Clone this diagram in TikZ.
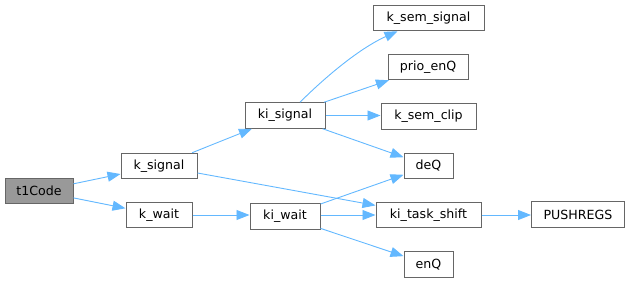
\documentclass[tikz,border=0pt]{standalone}
\usepackage{fontspec}
\setmainfont{DejaVu Sans}
\usetikzlibrary{arrows.meta}
\definecolor{edgeblue}{HTML}{63B8FF}
\definecolor{boxgray}{HTML}{666666}
\definecolor{rootfill}{HTML}{999999}
\tikzset{
  fn/.style={draw=boxgray, line width=1pt, fill=white, inner sep=0pt,
    minimum height=25.5pt, font=\fontsize{12.6}{14}\selectfont, text=black},
  root/.style={fn, fill=rootfill},
  edge/.style={draw=edgeblue, line width=0.9pt,
    -{Triangle[length=13pt,width=10pt,fill=edgeblue]}}
}
\begin{document}
\begin{tikzpicture}[x=1pt,y=-1pt]
\useasboundingbox (0,0) rectangle (631,283);
\node[root, minimum width=68pt] (t1) at (39,191) {t1Code};
\node[fn, minimum width=76pt] (ksig) at (159,166) {k\_signal};
\node[fn, minimum width=66pt] (kwait) at (159,215) {k\_wait};
\node[fn, minimum width=80pt] (kisig) at (285,115.5) {ki\_signal};
\node[fn, minimum width=70pt] (kiwait) at (285,216.5) {ki\_wait};
\node[fn, minimum width=111pt] (ksemsig) at (428.5,18) {k\_sem\_signal};
\node[fn, minimum width=80pt] (prio) at (428,67) {prio\_enQ};
\node[fn, minimum width=95pt] (ksemclip) at (428.5,116.5) {k\_sem\_clip};
\node[fn, minimum width=49pt] (deq) at (428.5,166) {deQ};
\node[fn, minimum width=105pt] (kits) at (428.5,215) {ki\_task\_shift};
\node[fn, minimum width=93pt] (push) at (578,214.5) {PUSHREGS};
\node[fn, minimum width=49pt] (enq) at (428.5,264.5) {enQ};

\draw[edge] (t1) -- (ksig);
\draw[edge] (t1) -- (kwait);
\draw[edge] (ksig) -- (kisig);
\draw[edge] (ksig) -- (kits);
\draw[edge] (kwait.east) -- (kiwait.west |- kwait.east);
\draw[edge] ([xshift=15pt]kisig.north) .. controls +(22,-22) and +(-40,18) .. ([xshift=-31pt]ksemsig.south);
\draw[edge] (kisig) -- (prio);
\draw[edge] (kisig.east) -- (ksemclip.west |- kisig.east);
\draw[edge] (kisig) -- (deq);
\draw[edge] (kiwait) -- (deq);
\draw[edge] (kiwait.east |- kits.west) -- (kits.west);
\draw[edge] (kiwait) -- (enq);
\draw[edge] (kits.east) -- (push.west |- kits.east);
\end{tikzpicture}
\end{document}
